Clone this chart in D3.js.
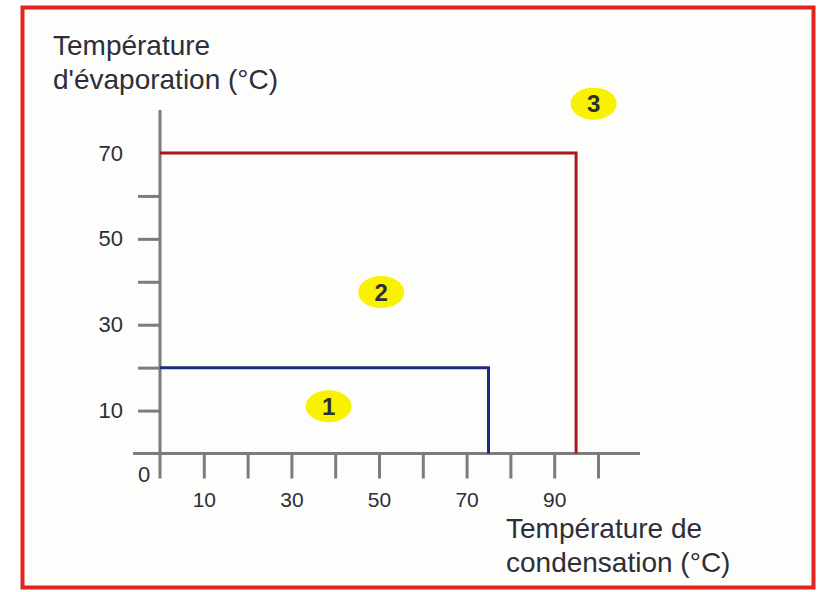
<!doctype html>
<html lang="fr">
<head>
    <meta charset="utf-8">
    <title>Températures d'évaporation et de condensation</title>
    <script src="https://d3js.org/d3.v7.min.js"></script>
    <style>
        body { margin: 0; background: #fff; }
        svg { display: block; }
        text { font-family: "Liberation Sans", Arial, sans-serif; fill: #2e2e38; }
    </style>
</head>
<body>
    <script>
        // valeurs
        const xTicks = [10, 20, 30, 40, 50, 60, 70, 80, 90, 100];
        const xTickLabels = [10, 30, 50, 70, 90];
        const yTicks = [10, 20, 30, 40, 50, 60];
        const yTickLabels = [10, 30, 50, 70];

        // limites des zones (condensation max, évaporation max)
        const zoneNames = ["1", "2"];
        const zoneCondMax = [75, 95];
        const zoneEvapMax = [20, 70];
        const zoneColors = ["#1e2a80", "#a8181c"];

        // étiquettes des zones (en unités du graphique)
        const labelNames = ["1", "2", "3"];
        const labelCond = [38.5, 50.5, 99];
        const labelEvap = [11, 37.6, 81.5];

        const width = 819, height = 592;

        const svg = d3.select("body").append("svg")
            .attr("width", width).attr("height", height);

        svg.append("rect")
            .attr("x", 0).attr("y", 0).attr("width", width).attr("height", height)
            .attr("fill", "#ffffff");

        // cadre rouge
        svg.append("rect")
            .attr("x", 22.5).attr("y", 7.5).attr("width", 791).attr("height", 580)
            .attr("fill", "#fdfdfc")
            .attr("stroke", "#e2231e").attr("stroke-width", 4);

        const x = d3.scaleLinear().domain([0, 100]).range([160, 598]);
        const y = d3.scaleLinear().domain([0, 70]).range([453.5, 153]);

        const axisColor = "#7c7c7c";

        // lignes des axes
        svg.append("line")
            .attr("x1", x(0) - 27).attr("x2", 640)
            .attr("y1", y(0)).attr("y2", y(0))
            .attr("stroke", axisColor).attr("stroke-width", 3);
        svg.append("line")
            .attr("x1", x(0)).attr("x2", x(0))
            .attr("y1", 110).attr("y2", y(0) + 25)
            .attr("stroke", axisColor).attr("stroke-width", 3);

        // graduations x
        const gx = svg.append("g")
            .attr("transform", `translate(0,${y(0)})`)
            .call(d3.axisBottom(x).tickValues(xTicks).tickSize(25).tickFormat(""));
        gx.select(".domain").remove();
        gx.selectAll(".tick line").attr("stroke", axisColor).attr("stroke-width", 3);

        const gxl = svg.append("g")
            .attr("transform", `translate(0,${y(0)})`)
            .call(d3.axisBottom(x).tickValues(xTickLabels).tickSize(0).tickPadding(39));
        gxl.select(".domain").remove();
        gxl.selectAll("text").attr("font-size", 21).attr("fill", "#2e2e38")
            .attr("font-family", "Liberation Sans, Arial, sans-serif");

        // graduations y
        const gy = svg.append("g")
            .attr("transform", `translate(${x(0)},0)`)
            .call(d3.axisLeft(y).tickValues(yTicks).tickSize(22).tickFormat(""));
        gy.select(".domain").remove();
        gy.selectAll(".tick line").attr("stroke", axisColor).attr("stroke-width", 3);

        const gyl = svg.append("g")
            .attr("transform", `translate(${x(0)},0)`)
            .call(d3.axisLeft(y).tickValues(yTickLabels).tickSize(0).tickPadding(37));
        gyl.select(".domain").remove();
        gyl.selectAll("text").attr("font-size", 22).attr("fill", "#2e2e38")
            .attr("font-family", "Liberation Sans, Arial, sans-serif");

        svg.append("text")
            .attr("x", x(0) - 16).attr("y", y(0) + 28)
            .attr("text-anchor", "middle")
            .attr("font-size", 22)
            .text("0");

        // zones
        zoneNames.forEach((n, i) => {
            svg.append("path")
                .attr("d", d3.line()([
                    [x(0), y(zoneEvapMax[i])],
                    [x(zoneCondMax[i]), y(zoneEvapMax[i])],
                    [x(zoneCondMax[i]), y(0)]
                ]))
                .attr("fill", "none")
                .attr("stroke", zoneColors[i])
                .attr("stroke-width", 3);
        });

        // étiquettes jaunes
        const lab = svg.selectAll("g.lab").data(labelNames).enter().append("g")
            .attr("class", "lab")
            .attr("transform", (d, i) => `translate(${x(labelCond[i])},${y(labelEvap[i])})`);
        lab.append("ellipse")
            .attr("rx", 23).attr("ry", 16)
            .attr("fill", "#f8f200");
        lab.append("text")
            .attr("text-anchor", "middle")
            .attr("dy", "0.36em")
            .attr("font-size", 24)
            .attr("font-weight", "bold")
            .attr("fill", "#1a1a1a")
            .text(d => d);

        // titres des axes
        const yt = svg.append("text").attr("font-size", 28);
        yt.append("tspan").attr("x", 53).attr("y", 55).text("Température");
        yt.append("tspan").attr("x", 53).attr("y", 89).text("d'évaporation (°C)");

        const xt = svg.append("text").attr("font-size", 28);
        xt.append("tspan").attr("x", 506).attr("y", 538).text("Température de");
        xt.append("tspan").attr("x", 506).attr("y", 572).text("condensation (°C)");
    </script>
</body>
</html>
